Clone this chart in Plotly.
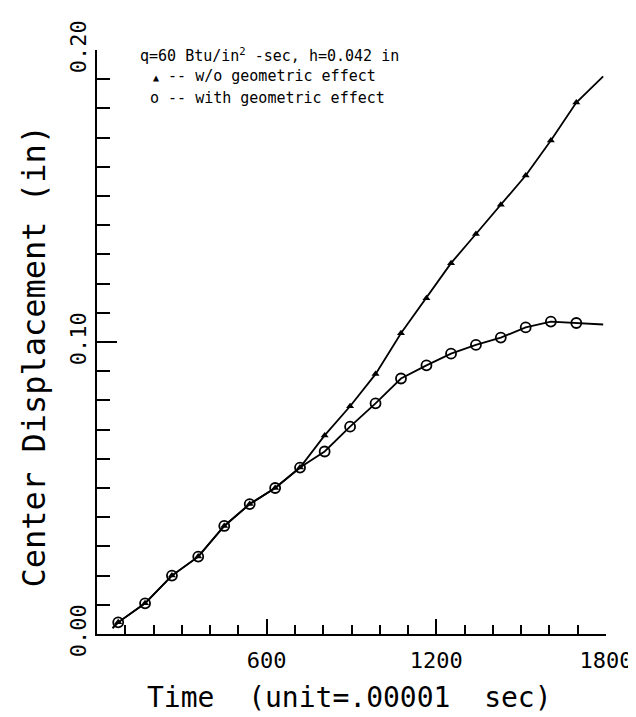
import plotly.graph_objects as go

# Time (unit = .00001 sec) at marker positions
time = [75, 170, 265, 358, 450, 540, 630, 718, 805, 895, 985, 1075, 1165, 1252, 1340, 1428, 1516, 1605, 1695]
# Center displacement (in), without geometric effect (triangles)
disp_wo = [0.004, 0.0105, 0.020, 0.0265, 0.037, 0.0445, 0.050, 0.057, 0.068, 0.078, 0.089, 0.103,
           0.115, 0.127, 0.137, 0.147, 0.157, 0.169, 0.182]
# Center displacement (in), with geometric effect (circles)
disp_with = [0.004, 0.0105, 0.020, 0.0265, 0.037, 0.0445, 0.050, 0.057, 0.0625, 0.071, 0.079, 0.0875,
             0.092, 0.096, 0.099, 0.1015, 0.105, 0.107, 0.1065]
# curve ends beyond the first / last marker
start_t, start_d = 55, 0.002
end_t = 1790
end_wo = 0.191
end_with = 0.106

x_ticks = [600, 1200, 1800]
y_ticks = [0.0, 0.10, 0.20]
y_tick_text = ["0.00", "0.10", "0.20"]

x_title = "Time  (unit=.00001  sec)"
y_title = "Center Displacement (in)"

FONT = "DejaVu Sans Mono"
W, H = 636, 717
L, R, T, B = 89, 37, 35, 91
PW, PH = W - L - R, H - T - B


def px(x):
    return (x - L) / PW


def py(y):
    return 1 - (y - T) / PH


fig = go.Figure()

fig.add_trace(go.Scatter(x=[start_t] + time + [end_t], y=[start_d] + disp_wo + [end_wo],
                         mode="lines", line=dict(color="black", width=1.8), showlegend=False))
fig.add_trace(go.Scatter(x=[start_t] + time + [end_t], y=[start_d] + disp_with + [end_with],
                         mode="lines", line=dict(color="black", width=1.8), showlegend=False))
fig.add_trace(go.Scatter(x=time, y=disp_wo, mode="markers",
                         marker=dict(symbol="triangle-up", size=7, color="black"), showlegend=False))
fig.add_trace(go.Scatter(x=time, y=disp_with, mode="markers",
                         marker=dict(symbol="circle-open", size=10, color="black", line=dict(width=1.8)),
                         showlegend=False))

fig.update_layout(
    width=W, height=H,
    margin=dict(l=L, r=R, t=T, b=B),
    paper_bgcolor="white", plot_bgcolor="white",
    font=dict(family=FONT, color="black"),
    xaxis=dict(range=[0, 1800], tickvals=x_ticks, ticks="inside", ticklen=15, tickwidth=1.5,
               tickcolor="black", showline=True, linecolor="black", linewidth=2,
               showgrid=False, zeroline=False, tickfont=dict(size=22), ticklabelstandoff=6,
               minor=dict(dtick=100, ticks="inside", ticklen=9, tickwidth=1.5, tickcolor="black")),
    yaxis=dict(range=[0, 0.2], tickvals=y_ticks, ticktext=y_tick_text, tickangle=-90,
               ticks="inside", ticklen=20, tickwidth=1.5, tickcolor="black",
               showline=True, linecolor="black", linewidth=2,
               showgrid=False, zeroline=False, tickfont=dict(size=22),
               minor=dict(dtick=0.01, ticks="inside", ticklen=13, tickwidth=1.5, tickcolor="black")),
)

# axis titles
fig.add_annotation(text=x_title, xref="paper", yref="paper", x=px(342), y=py(690),
                   xanchor="center", yanchor="middle", showarrow=False,
                   font=dict(size=28, family=FONT, color="black"))
fig.add_annotation(text=y_title, xref="paper", yref="paper", x=px(26), y=py(345),
                   xanchor="center", yanchor="middle", showarrow=False, textangle=-90,
                   font=dict(size=32, family=FONT, color="black"))

legend_lines = [
    "q=60 Btu/in<sup>2</sup> -sec, h=0.042 in",
    "<span style='font-size:10px'>\u25b2</span> -- w/o geometric effect",
    "o -- with geometric effect",
]
legend_x = [130, 143, 140]
legend_y = [40, 61, 84]
for txt, lx, ly in zip(legend_lines, legend_x, legend_y):
    fig.add_annotation(text=txt, xref="paper", yref="paper", x=px(lx), y=py(ly),
                       xanchor="left", yanchor="middle", showarrow=False,
                       font=dict(size=15, family=FONT, color="black"))

fig.write_html("out.html")
